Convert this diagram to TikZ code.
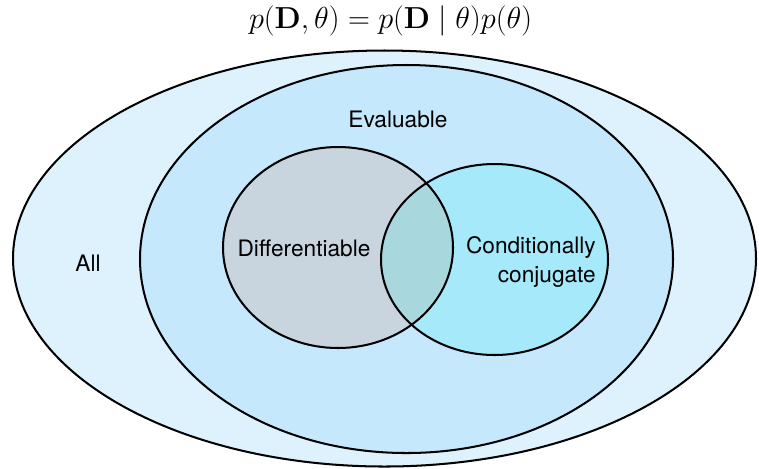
\documentclass[tikz,border=0pt]{standalone}
\usepackage[no-math]{fontspec}
\setmainfont{TeX Gyre Heros}
\definecolor{allfill}{RGB}{222,242,253}
\definecolor{evalfill}{RGB}{197,232,252}
\definecolor{difffill}{RGB}{200,213,223}
\definecolor{conjfill}{RGB}{165,233,250}
\definecolor{bothfill}{RGB}{168,216,222}
\tikzset{set/.style={draw=black, line width=1.15pt},
  lbl/.style={font=\fontsize{12.9}{16.4}\selectfont, inner sep=0pt}}
\begin{document}
\begin{tikzpicture}[x=0.02cm,y=-0.02cm]
\useasboundingbox (0,0) rectangle (759,468);
\node (title) at (390.5,21) {\fontsize{16.4}{20}\selectfont $p(\mathbf{D},\theta)=p(\mathbf{D}\mid\theta)p(\theta)$};
\draw[set, fill=allfill] (384.5,258.5) ellipse [x radius=371.5, y radius=208];
\draw[set, fill=evalfill] (406.5,259) ellipse [x radius=266.5, y radius=194];
\fill[difffill] (338,247.5) ellipse [x radius=115, y radius=100.5];
\fill[conjfill] (494.5,259.5) ellipse [x radius=113.5, y radius=95.5];
\begin{scope}
\clip (338,247.5) ellipse [x radius=115, y radius=100.5];
\fill[bothfill] (494.5,259.5) ellipse [x radius=113.5, y radius=95.5];
\end{scope}
\draw[set] (338,247.5) ellipse [x radius=115, y radius=100.5];
\draw[set] (494.5,259.5) ellipse [x radius=113.5, y radius=95.5];
\node[lbl] (all) at (88,263) {All};
\node[lbl] (eval) at (398,119) {Evaluable};
\node[lbl] (diff) at (304,248) {Differentiable};
\node[lbl, align=right, anchor=east] (conj) at (596,262) {Conditionally\\conjugate};
\end{tikzpicture}
\end{document}
